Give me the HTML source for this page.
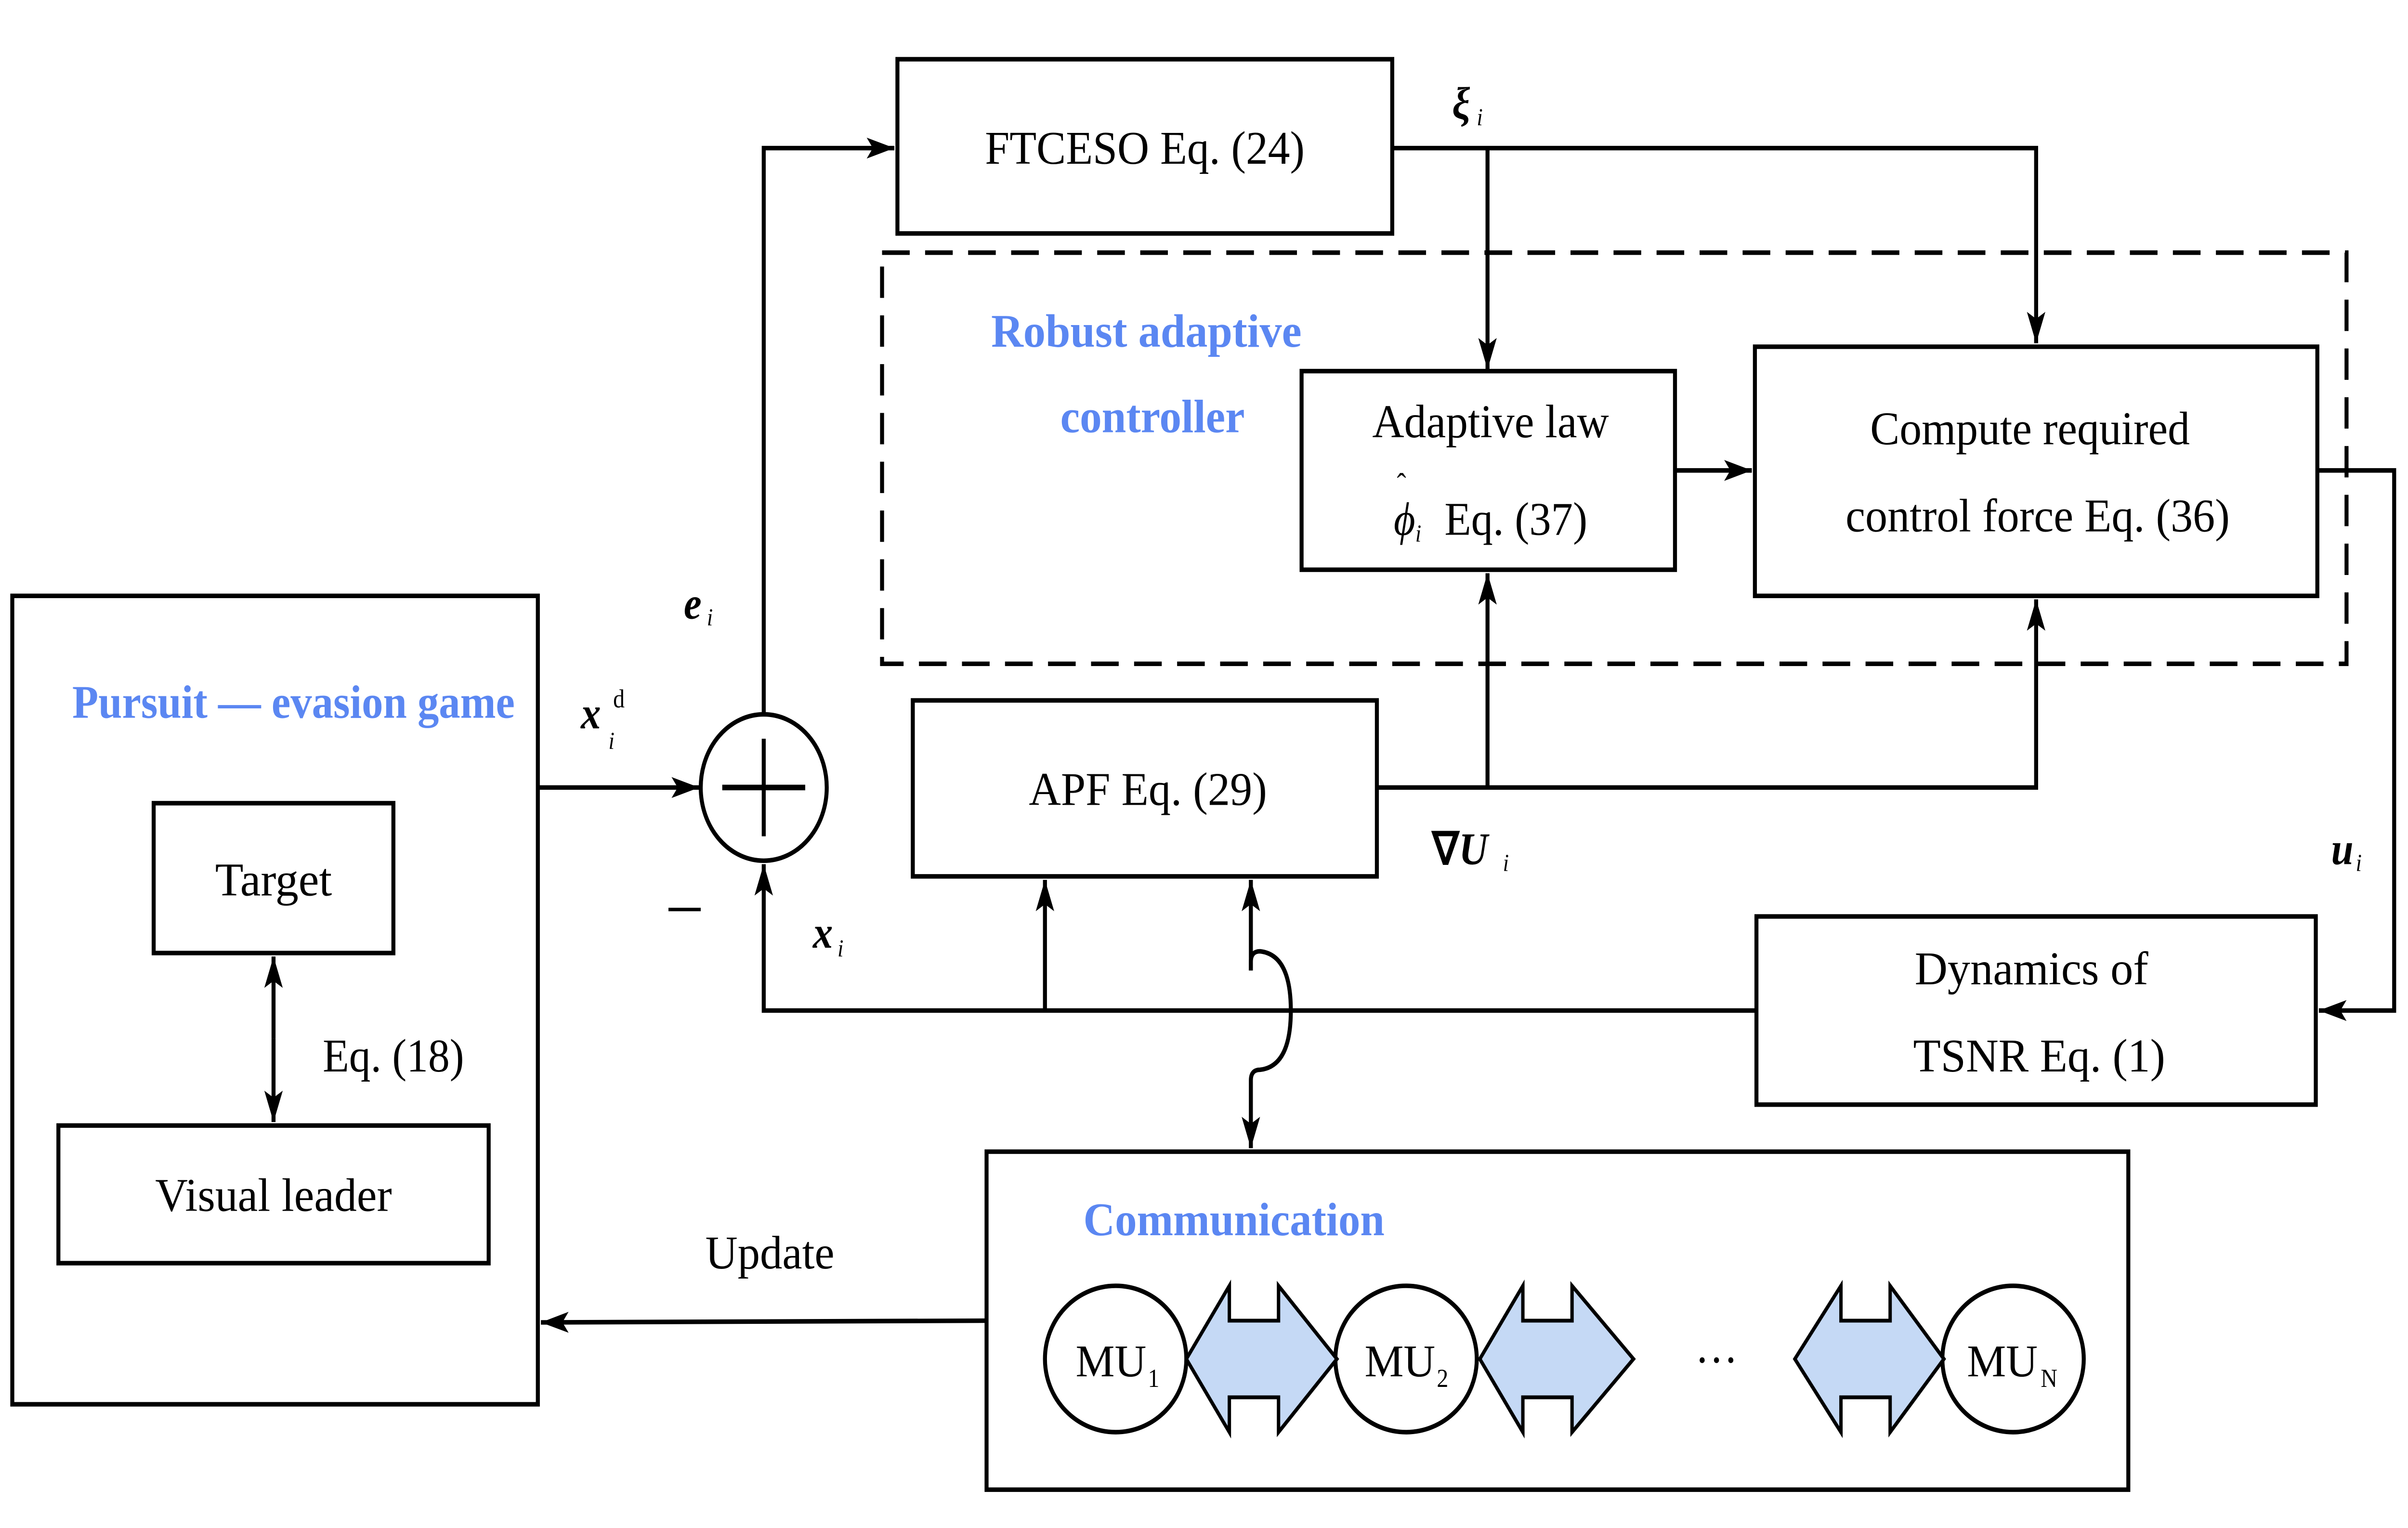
<!DOCTYPE html>
<html><head><meta charset="utf-8"><style>
html,body{margin:0;padding:0;background:#fff;overflow:hidden;width:100vw;height:100vh}
svg{display:block;position:fixed;left:0;top:0;width:100vw;height:100vh}
text{font-family:"Liberation Serif",serif;fill:#000}
.b{fill:#5B87F2;font-weight:bold}
</style></head><body>
<svg viewBox="0 0 1567 877" preserveAspectRatio="none" xmlns="http://www.w3.org/2000/svg">
<defs>
<marker id="a" markerUnits="userSpaceOnUse" markerWidth="24" markerHeight="16" refX="18" refY="6" orient="auto" viewBox="0 0 24 12">
<path d="M0,0 L18,6 L0,12 L4,6 Z" fill="#000"/>
</marker>
</defs>
<g fill="none" stroke="#000" stroke-width="2.6">
<rect x="8" y="342" width="342" height="464"/>
<rect x="100" y="461" width="156" height="86"/>
<rect x="38" y="646" width="280" height="79"/>
<line x1="178" y1="596" x2="178" y2="549" marker-end="url(#a)"/>
<line x1="178" y1="596" x2="178" y2="644" marker-end="url(#a)"/>
<line x1="350" y1="452" x2="455" y2="452" marker-end="url(#a)"/>
<ellipse cx="497" cy="452" rx="41" ry="42"/>
<line x1="470" y1="452" x2="524" y2="452" stroke-width="3.2"/>
<line x1="497" y1="424" x2="497" y2="480" stroke-width="2.6"/>
<polyline points="497,410 497,85 582,85" marker-end="url(#a)"/>
<rect x="584" y="34" width="322" height="100"/>
<polyline points="906,85 1325,85 1325,197" marker-end="url(#a)"/>
<line x1="968" y1="85" x2="968" y2="212" marker-end="url(#a)"/>
<rect x="574" y="145" width="953" height="236" stroke-dasharray="18,10"/>
<rect x="847" y="213" width="243" height="114"/>
<line x1="1090" y1="270" x2="1140" y2="270" marker-end="url(#a)"/>
<rect x="1142" y="199" width="366" height="143"/>
<polyline points="1508,270 1558,270 1558,580 1509,580" marker-end="url(#a)"/>
<rect x="594" y="402" width="302" height="101"/>
<polyline points="896,452 1325,452 1325,344" marker-end="url(#a)"/>
<line x1="968" y1="452" x2="968" y2="329" marker-end="url(#a)"/>
<rect x="1143" y="526" width="364" height="108"/>
<polyline points="1143,580 497,580 497,496" marker-end="url(#a)"/>
<line x1="680" y1="580" x2="680" y2="505" marker-end="url(#a)"/>
<path d="M814,557 L814,552 Q814,546 820,546 Q840,548 840,580 Q840,612 820,614 Q814,614 814,620 L814,659" marker-end="url(#a)"/>
<line x1="814" y1="557" x2="814" y2="505" marker-end="url(#a)"/>
<rect x="642" y="661" width="743" height="194"/>
<line x1="642" y1="758" x2="352" y2="759" marker-end="url(#a)"/>
<ellipse cx="726" cy="780" rx="46" ry="42"/>
<ellipse cx="915" cy="780" rx="46" ry="42"/>
<ellipse cx="1310" cy="780" rx="46" ry="42"/>
<g fill="#C5D9F5" stroke-width="2.2">
<path d="M772,780 L800,738 L800,758 L832,758 L832,738 L870,780 L832,822 L832,802 L800,802 L800,822 Z"/>
<path d="M963,780 L991,738 L991,758 L1023,758 L1023,738 L1063,780 L1023,822 L1023,802 L991,802 L991,822 Z"/>
<path d="M1168,780 L1198,738 L1198,758 L1230,758 L1230,738 L1265,780 L1230,822 L1230,802 L1198,802 L1198,822 Z"/>
</g>
<line x1="435" y1="522" x2="456" y2="522" stroke-width="2"/>
</g>
<text x="745" y="94" font-size="27" text-anchor="middle" textLength="208" lengthAdjust="spacingAndGlyphs">FTCESO Eq. (24)</text>
<text x="945" y="68" font-size="26" font-style="italic" font-weight="bold">ξ</text><text x="961" y="72" font-size="14" font-style="italic">i</text>
<text class="b" x="746" y="199" font-size="27" text-anchor="middle" textLength="202" lengthAdjust="spacingAndGlyphs">Robust adaptive</text>
<text class="b" x="750" y="248" font-size="27" text-anchor="middle" textLength="120" lengthAdjust="spacingAndGlyphs">controller</text>
<text x="970" y="251" font-size="27" text-anchor="middle" textLength="154" lengthAdjust="spacingAndGlyphs">Adaptive law</text>
<text x="907" y="307" font-size="27" font-style="italic">ϕ</text><text x="909" y="284" font-size="18">ˆ</text><text x="921" y="311" font-size="14" font-style="italic">i</text>
<text x="940" y="307" font-size="27" textLength="93" lengthAdjust="spacingAndGlyphs">Eq. (37)</text>
<text x="1321" y="255" font-size="27" text-anchor="middle" textLength="208" lengthAdjust="spacingAndGlyphs">Compute required</text>
<text x="1326" y="305" font-size="27" text-anchor="middle" textLength="250" lengthAdjust="spacingAndGlyphs">control force Eq. (36)</text>
<text x="747" y="462" font-size="27" text-anchor="middle" textLength="155" lengthAdjust="spacingAndGlyphs">APF Eq. (29)</text>
<text x="932" y="496" font-size="26" font-weight="bold">∇<tspan font-style="italic">U</tspan></text><text x="978" y="500" font-size="14" font-style="italic">i</text>
<text x="1322" y="565" font-size="27" text-anchor="middle" textLength="152" lengthAdjust="spacingAndGlyphs">Dynamics of</text>
<text x="1327" y="615" font-size="27" text-anchor="middle" textLength="164" lengthAdjust="spacingAndGlyphs">TSNR   Eq. (1)</text>
<text x="1517" y="496" font-size="26" font-style="italic" font-weight="bold">u</text><text x="1533" y="500" font-size="14" font-style="italic">i</text>
<text x="445" y="355" font-size="26" font-style="italic" font-weight="bold">e</text><text x="460" y="359" font-size="14" font-style="italic">i</text>
<text x="378" y="418" font-size="26" font-style="italic" font-weight="bold">x</text><text x="399" y="406" font-size="15">d</text><text x="396" y="430" font-size="14" font-style="italic">i</text>
<text x="529" y="544" font-size="26" font-style="italic" font-weight="bold">x</text><text x="545" y="549" font-size="14" font-style="italic">i</text>
<text class="b" x="47" y="412" font-size="27" textLength="288" lengthAdjust="spacingAndGlyphs">Pursuit — evasion game</text>
<text x="178" y="514" font-size="27" text-anchor="middle" textLength="76" lengthAdjust="spacingAndGlyphs">Target</text>
<text x="178" y="695" font-size="27" text-anchor="middle" textLength="154" lengthAdjust="spacingAndGlyphs">Visual leader</text>
<text x="210" y="615" font-size="27" textLength="92" lengthAdjust="spacingAndGlyphs">Eq. (18)</text>
<text x="501" y="728" font-size="27" text-anchor="middle" textLength="84" lengthAdjust="spacingAndGlyphs">Update</text>
<text class="b" x="803" y="709" font-size="27" text-anchor="middle" textLength="196" lengthAdjust="spacingAndGlyphs">Communication</text>
<text x="700" y="790" font-size="26" textLength="46" lengthAdjust="spacingAndGlyphs">MU</text><text x="747" y="796" font-size="15">1</text>
<text x="888" y="790" font-size="26" textLength="46" lengthAdjust="spacingAndGlyphs">MU</text><text x="935" y="796" font-size="15">2</text>
<text x="1280" y="790" font-size="26" textLength="46" lengthAdjust="spacingAndGlyphs">MU</text><text x="1328" y="796" font-size="15">N</text>
<text x="1117" y="790" font-size="28" text-anchor="middle">···</text>
</svg>
</body></html>
